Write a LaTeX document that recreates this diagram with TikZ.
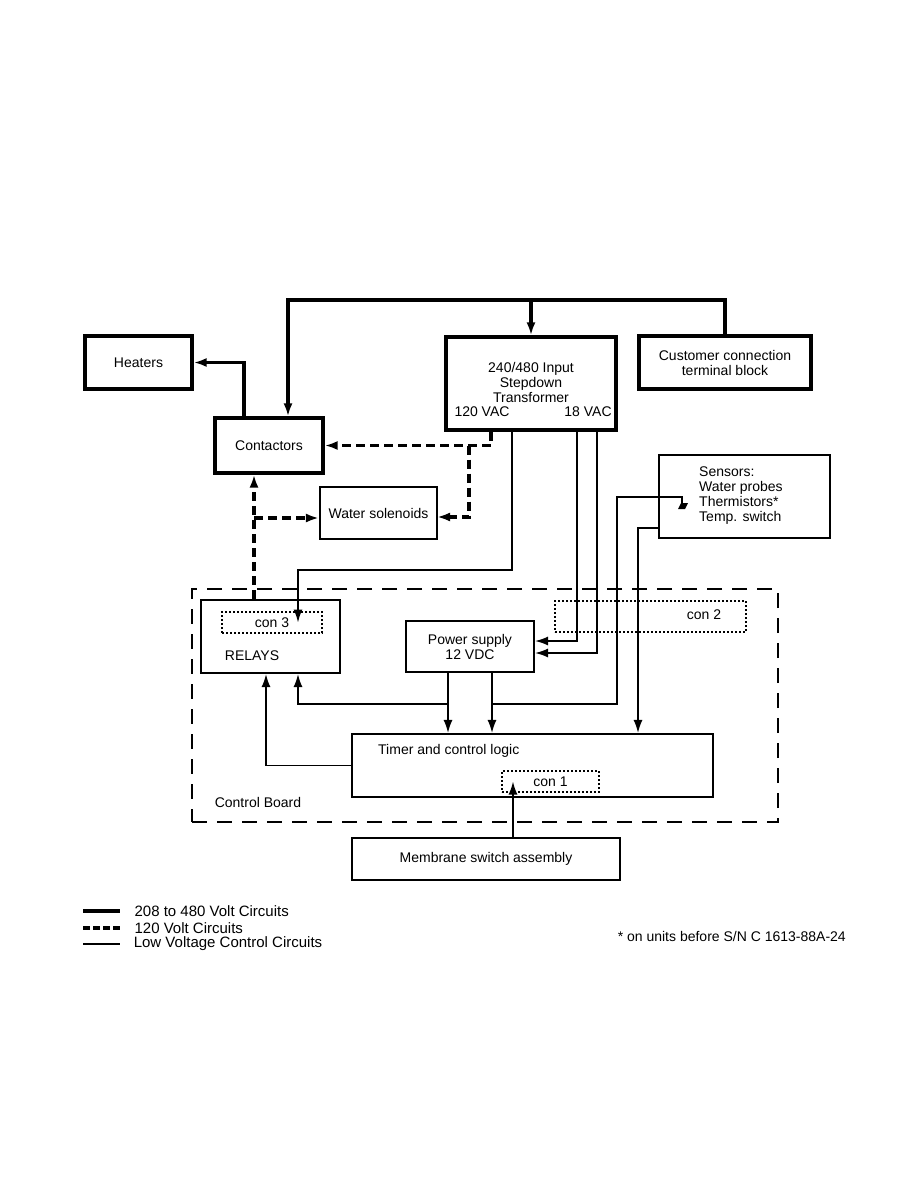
\documentclass[tikz,border=0pt]{standalone}
\usepackage{fontspec}
\setmainfont{Liberation Sans}
\usetikzlibrary{arrows.meta,positioning}
\tikzset{
  hv/.style={line width=3.2pt},
  mid/.style={line width=3.2pt, dash pattern=on 9pt off 5pt},
  low/.style={line width=1.6pt},
  arr/.style={-{Latex[length=13pt,width=9pt]}},
  hvbox/.style={draw, line width=3.2pt},
  box/.style={draw, line width=2.1pt},
  conbox/.style={draw, line width=1.8pt, dash pattern=on 2pt off 2pt},
  board/.style={draw, line width=2.4pt, dash pattern=on 15pt off 10pt},
}

\begin{document}
\begin{tikzpicture}[x=1pt,y=-1pt,
  every node/.style={font=\fontsize{14}{15}\selectfont, inner sep=0pt}]
\useasboundingbox[fill=white] (0,0) rectangle (918,1188);

% power side
\node[hvbox, minimum width=107pt, minimum height=53pt] (heaters) at (138.5,362.5) {Heaters};
\node[hvbox, minimum width=108pt, minimum height=55pt] (contact) at (269,445.5) {Contactors};
\node[hvbox, minimum width=170pt, minimum height=93pt] (trans) at (531,383.5) {};
\node[align=center] (transtxt) at (531,382) {240/480 Input\\Stepdown\\Transformer};
\node (vac120) at (482,412) {120 VAC};
\node (vac18) at (588,412) {18 VAC};
\node[hvbox, minimum width=172pt, minimum height=53pt, align=center] (cust) at (725,362.5) {Customer connection\\terminal block};
\node[box, minimum width=117pt, minimum height=52pt] (solen) at (378.5,513) {Water solenoids};
\node[box, minimum width=171pt, minimum height=83pt] (sensors) at (744.5,496.5) {};
\node[align=left, anchor=west] (senstxt) at (699,495.5) {Sensors:\\Water probes\\Thermistors*\\Temp. switch};

% control board
\node[board, minimum width=586pt, minimum height=233pt] (board) at (485,705.5) {};
\node (boardtxt) at (258,802) {Control Board};
\node[box, minimum width=139pt, minimum height=73pt] (relays) at (270.5,636.5) {};
\node[conbox, minimum width=100pt, minimum height=21pt] (con3) at (272,622.5) {con 3};
\node (relaytxt) at (252,656) {RELAYS};
\node[box, minimum width=128pt, minimum height=51pt, align=center] (psu) at (470,646.5) {Power supply\\12 VDC};
\node[conbox, minimum width=191pt, minimum height=31pt] (con2) at (650.5,616.5) {};
\node (con2txt) at (704,615) {con 2};
\node[box, minimum width=361pt, minimum height=63pt] (timer) at (532.5,765.5) {};
\node[anchor=west] (timertxt) at (378,751) {Timer and control logic};
\node[conbox, minimum width=97pt, minimum height=21pt] (con1) at (550.5,781.5) {con 1};
\node[box, minimum width=268pt, minimum height=42pt] (membrane) at (486,859) {Membrane switch assembly};

% 208 to 480 V
\coordinate (bus) at (531,300);
\draw[hv,arr] (cust.north) -- (cust.north |- bus) -| ([xshift=19pt]contact.north);
\draw[hv,arr] (bus) -- (trans.north);
\draw[hv,arr] ([xshift=-25pt]contact.north) |- (heaters.east);

% 120 V
\coordinate (j120) at (469,445.5);
\coordinate (c120) at (254,518);
\coordinate (sol) at (437,517);
\draw[mid,arr] ([xshift=-40pt]trans.south) |- (contact.east);
\draw[mid,arr] (j120) |- (sol);
\draw[mid,arr] (c120 |- relays.north) -- (c120 |- contact.south);
\draw[mid,arr] (c120) -- (c120 -| solen.west);

% low voltage
\coordinate (l3) at (298,570);
\coordinate (probe) at (682,503);
\coordinate (pw) at (617,497);
\coordinate (lb) at (617,704);
\coordinate (psl) at ([xshift=-22pt]psu.south);
\coordinate (psr) at ([xshift=22pt]psu.south);
\coordinate (s2) at (638,528);
\coordinate (mk) at ([xshift=27pt]membrane.north);
\draw[low,arr] ([xshift=-19pt]trans.south) |- (l3) -- (l3 |- con3.center);
\draw[low,arr] ([xshift=46pt]trans.south) |- ([yshift=5.5pt]psu.east);
\draw[low,arr] ([xshift=66pt]trans.south) |- ([yshift=-6.5pt]psu.east);
\draw[low] (probe) |- (pw) -- (lb) -- (lb -| psr);
\fill (678,509) -- (681,503) -- (688,503) -- (685,509) -- cycle;
\draw[low,arr] (psl) -- (psl |- timer.north);
\draw[low,arr] (psr) -- (psr |- timer.north);
\draw[low,arr] (psl |- lb) -| ([xshift=27.5pt]relays.south);
\draw[low,arr] (sensors.west |- s2) -- (s2) -- (s2 |- timer.north);
\draw[low,arr] (timer.west) -| ([xshift=-4.5pt]relays.south);
\draw[low,arr] (mk) -- (mk |- con1.center);

% legend
\begin{scope}[every node/.style={font=\fontsize{15}{15}\selectfont, inner sep=0pt, anchor=west, xshift=13pt}]
\draw[hv] (83,911) -- (120,911) node (leg1) {208 to 480 Volt Circuits};
\draw[mid, dash pattern=on 7pt off 3pt] (83,928) -- (120,928) node (leg2) {120 Volt Circuits};
\draw[low] (83,944) -- (120,944) node (leg3) {Low Voltage Control Circuits};
\end{scope}
\node[anchor=east] (foot) at (846,936) {* on units before S/N C 1613-88A-24};
\end{tikzpicture}
\end{document}
